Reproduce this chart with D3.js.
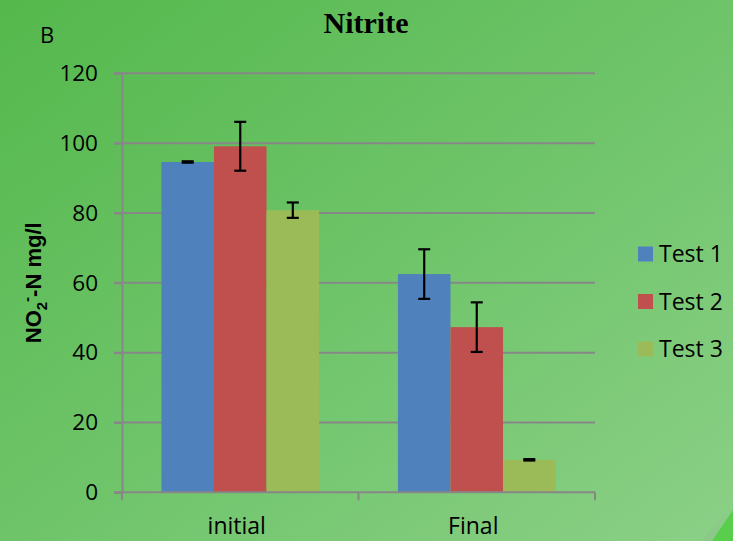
<!DOCTYPE html>
<html>
<head>
<meta charset="utf-8">
<script src="https://cdn.jsdelivr.net/npm/d3@7"></script>
<style>
  html, body { margin: 0; padding: 0; background: #6cc466; }
  svg { display: block; }
</style>
</head>
<body>
<svg id="chart" width="733" height="541"></svg>
<script>
// Nitrite concentration (mean ± error) per test, before and after treatment
const categories = ["initial", "Final"];
const seriesNames = ["Test 1", "Test 2", "Test 3"];
const test1 = [94.6, 62.5];
const test2 = [99.1, 47.3];
const test3 = [80.8, 9.3];
const err1 = [0.2, 7.1];
const err2 = [7.0, 7.1];
const err3 = [2.2, 0.2];
const yTicks = [0, 20, 40, 60, 80, 100, 120];
const colors = ["#4f81bd", "#c0504d", "#9bbb59"];

const values = [test1, test2, test3];
const errors = [err1, err2, err3];

const W = 733, H = 541;
const margin = { left: 122, right: 138, top: 73.3, bottom: 48.7 };
const svg = d3.select("#chart");
const labelFont = "'Open Sans', sans-serif";

// Background gradient
const defs = svg.append("defs");
const grad = defs.append("linearGradient").attr("id", "bg")
  .attr("x1", "0").attr("y1", "0").attr("x2", "1").attr("y2", "1");
grad.append("stop").attr("offset", "0").attr("stop-color", "#54b84c");
grad.append("stop").attr("offset", "0.5").attr("stop-color", "#6ec469");
grad.append("stop").attr("offset", "1").attr("stop-color", "#8bd087");
svg.append("rect").attr("width", W).attr("height", H).attr("fill", "url(#bg)");

// Curled page corner
const shadow = defs.append("linearGradient").attr("id", "curlShade")
  .attr("x1", "0").attr("y1", "1").attr("x2", "1").attr("y2", "0");
shadow.append("stop").attr("offset", "0").attr("stop-color", "#8fbf8c").attr("stop-opacity", 0.6);
shadow.append("stop").attr("offset", "1").attr("stop-color", "#8fbf8c").attr("stop-opacity", 0);
svg.append("path").attr("d", "M702,541 Q716,522 733,505 L733,541 Z").attr("fill", "url(#curlShade)");
svg.append("path").attr("d", "M712,541 Q722,526 733,510 L733,541 Z").attr("fill", "#59cd4c");

const x0 = d3.scaleBand().domain(categories)
  .range([margin.left, W - margin.right]).paddingInner(0).paddingOuter(0);
const bandW = x0.bandwidth();
const barW = bandW / 4.5;
const x1 = d3.scaleBand().domain(seriesNames)
  .range([barW * 0.75, barW * 3.75]).padding(0);
const y = d3.scaleLinear().domain([0, 120]).range([H - margin.bottom, margin.top]);

const grid = "#878787";

// Horizontal gridlines
svg.append("g").selectAll("line").data(yTicks.filter(t => t > 0)).join("line")
  .attr("x1", margin.left - 8).attr("x2", W - margin.right)
  .attr("y1", d => y(d)).attr("y2", d => y(d))
  .attr("stroke", grid).attr("stroke-width", 2);

// Y axis
const yAxis = svg.append("g").attr("transform", `translate(${margin.left},0)`)
  .call(d3.axisLeft(y).tickValues(yTicks).tickSize(8).tickPadding(16).tickFormat(d3.format("d")));
yAxis.select(".domain").attr("stroke", grid).attr("stroke-width", 2);
yAxis.selectAll(".tick line").attr("stroke", grid).attr("stroke-width", 2);
yAxis.selectAll("text").attr("fill", "#000")
  .style("font-family", labelFont).style("font-size", "22.5px");

// Bars
const groups = svg.append("g").selectAll("g").data(seriesNames).join("g")
  .attr("fill", (d, i) => colors[i]);
groups.selectAll("rect").data((s, i) => categories.map((c, j) => ({ c, s, v: values[i][j], e: errors[i][j] })))
  .join("rect")
  .attr("x", d => x0(d.c) + x1(d.s))
  .attr("width", x1.bandwidth())
  .attr("y", d => y(d.v))
  .attr("height", d => y(0) - y(d.v));

// X axis
const xAxisY = y(0);
svg.append("line").attr("x1", margin.left - 8).attr("x2", W - margin.right)
  .attr("y1", xAxisY).attr("y2", xAxisY).attr("stroke", grid).attr("stroke-width", 2);
const boundaries = [margin.left, margin.left + bandW, W - margin.right];
svg.append("g").selectAll("line").data(boundaries).join("line")
  .attr("x1", d => d).attr("x2", d => d)
  .attr("y1", xAxisY).attr("y2", xAxisY + 8)
  .attr("stroke", grid).attr("stroke-width", 2);
svg.append("g").selectAll("text").data(categories).join("text")
  .attr("x", d => x0(d) + bandW / 2 - 3.5)
  .attr("y", 534)
  .attr("text-anchor", "middle")
  .style("font-family", labelFont).style("font-size", "23px")
  .text(d => d);

// Error bars
const capHalf = 6;
const ebars = svg.append("g").attr("stroke", "#000").attr("stroke-width", 2.2);
seriesNames.forEach((s, i) => {
  categories.forEach((c, j) => {
    const cx = x0(c) + x1(s) + x1.bandwidth() / 2;
    const v = values[i][j], e = errors[i][j];
    const g = ebars.append("g");
    g.append("line").attr("x1", cx).attr("x2", cx).attr("y1", y(v + e)).attr("y2", y(v - e));
    g.append("line").attr("x1", cx - capHalf).attr("x2", cx + capHalf).attr("y1", y(v + e)).attr("y2", y(v + e));
    g.append("line").attr("x1", cx - capHalf).attr("x2", cx + capHalf).attr("y1", y(v - e)).attr("y2", y(v - e));
  });
});

// Title and panel letter
svg.append("text").attr("x", 366).attr("y", 33).attr("text-anchor", "middle")
  .style("font-family", "'Liberation Serif', 'Times New Roman', serif")
  .style("font-weight", "bold").style("font-size", "30px").text("Nitrite");
svg.append("text").attr("x", 40).attr("y", 43)
  .style("font-family", labelFont).style("font-size", "22px").text("B");

// Y axis title with sub/superscript
const yt = svg.append("text")
  .attr("transform", `translate(41,${(margin.top + H - margin.bottom) / 2}) rotate(-90)`)
  .attr("text-anchor", "middle")
  .style("font-family", "'Liberation Sans', Arial, sans-serif")
  .style("font-weight", "bold").style("font-size", "22px");
yt.append("tspan").text("NO");
yt.append("tspan").attr("dy", 6).style("font-size", "15px").text("2");
yt.append("tspan").attr("dy", -15).style("font-size", "15px").text("-");
yt.append("tspan").attr("dy", 9).text("-N mg/l");

// Legend
const legend = svg.append("g").selectAll("g").data(seriesNames).join("g")
  .attr("transform", (d, i) => `translate(638,${254 + i * 47.5})`);
legend.append("rect").attr("x", 0).attr("y", -7.5).attr("width", 15).attr("height", 15)
  .attr("fill", (d, i) => colors[i]);
legend.append("text").attr("x", 21).attr("y", 8)
  .style("font-family", labelFont).style("font-size", "23px")
  .text(d => d);
</script>
</body>
</html>
